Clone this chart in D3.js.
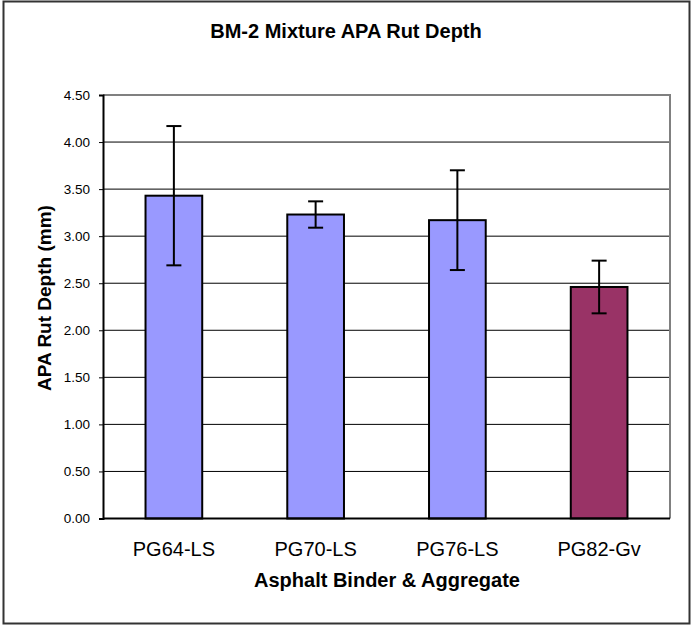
<!DOCTYPE html>
<html>
<head>
<meta charset="utf-8">
<script src="https://cdn.jsdelivr.net/npm/d3@7"></script>
<style>
  html, body { margin: 0; padding: 0; background: #fff; }
  svg { display: block; }
  text { font-family: "Liberation Sans", Arial, sans-serif; fill: #000; }
</style>
</head>
<body>
<svg id="chart" width="691" height="626"></svg>
<script>
// Mean rut depth per binder/aggregate combination, with +/- error half-widths
const categories = ["PG64-LS", "PG70-LS", "PG76-LS", "PG82-Gv"];
const rutDepth = [3.43, 3.23, 3.17, 2.46];
const rutError = [0.74, 0.14, 0.53, 0.28];
const barColors = ["#9999FF", "#9999FF", "#9999FF", "#993366"];
const yTicks = [0, 0.5, 1, 1.5, 2, 2.5, 3, 3.5, 4, 4.5];

const svg = d3.select("#chart");
const plot = { left: 103, right: 670, top: 95, bottom: 518.5 };
const FONT = "Liberation Sans, Arial, sans-serif";

// outer chart frame
svg.append("rect")
  .attr("x", 3.5).attr("y", 1.5)
  .attr("width", 686).attr("height", 622)
  .attr("fill", "#fff").attr("stroke", "#333").attr("stroke-width", 2);

const x = d3.scaleBand().domain(categories)
  .range([plot.left, plot.right]).paddingInner(0.6).paddingOuter(0.3);
const y = d3.scaleLinear().domain([0, 4.5]).range([plot.bottom, plot.top]);

// horizontal gridlines
svg.append("g").selectAll("line").data(yTicks.filter(t => t > 0 && t < 4.5)).join("line")
  .attr("x1", plot.left).attr("x2", plot.right)
  .attr("y1", d => y(d)).attr("y2", d => y(d))
  .attr("stroke", "#000").attr("stroke-width", 1);

// plot area border (top/right gray)
svg.append("path")
  .attr("d", `M${plot.left},${plot.top}H${plot.right}V${plot.bottom}`)
  .attr("fill", "none").attr("stroke", "#808080").attr("stroke-width", 2);

// bars
svg.append("g").selectAll("rect").data(categories).join("rect")
  .attr("x", d => x(d))
  .attr("y", (d, i) => y(rutDepth[i]))
  .attr("width", x.bandwidth())
  .attr("height", (d, i) => y(0) - y(rutDepth[i]))
  .attr("fill", (d, i) => barColors[i])
  .attr("stroke", "#000").attr("stroke-width", 2);

// error bars
const eb = svg.append("g").attr("stroke", "#000").attr("stroke-width", 2);
categories.forEach((c, i) => {
  const cx = x(c) + x.bandwidth() / 2;
  const hi = y(rutDepth[i] + rutError[i]), lo = y(rutDepth[i] - rutError[i]);
  eb.append("line").attr("x1", cx).attr("x2", cx).attr("y1", hi).attr("y2", lo);
  eb.append("line").attr("x1", cx - 7.5).attr("x2", cx + 7.5).attr("y1", hi).attr("y2", hi);
  eb.append("line").attr("x1", cx - 7.5).attr("x2", cx + 7.5).attr("y1", lo).attr("y2", lo);
});

// y axis
const yAxis = d3.axisLeft(y).tickValues(yTicks).tickFormat(d3.format(".2f")).tickSize(4).tickPadding(9);
const gy = svg.append("g").attr("transform", `translate(${plot.left},0)`).call(yAxis);
gy.select(".domain").attr("stroke", "#000").attr("stroke-width", 2);
gy.selectAll(".tick line").attr("stroke", "#000");
gy.selectAll(".tick text").attr("font-size", 13.5).attr("font-family", FONT).attr("fill", "#000");

// x axis
const xAxis = d3.axisBottom(x).tickSize(0).tickPadding(23);
const gx = svg.append("g").attr("transform", `translate(0,${plot.bottom})`).call(xAxis);
gx.select(".domain").attr("d", `M${plot.left},0H${plot.right}`).attr("stroke", "#000").attr("stroke-width", 2);
gx.selectAll(".tick text").attr("font-size", 20).attr("font-family", FONT).attr("fill", "#000");

// titles
svg.append("text").attr("x", 346).attr("y", 38).attr("text-anchor", "middle")
  .attr("font-size", 20).attr("font-weight", "bold").text("BM-2 Mixture APA Rut Depth");
svg.append("text").attr("x", 387).attr("y", 587).attr("text-anchor", "middle")
  .attr("font-size", 20).attr("font-weight", "bold").text("Asphalt Binder & Aggregate");
svg.append("text").attr("transform", "translate(51,298) rotate(-90)").attr("text-anchor", "middle")
  .attr("font-size", 19).attr("font-weight", "bold").text("APA Rut Depth (mm)");
</script>
</body>
</html>
